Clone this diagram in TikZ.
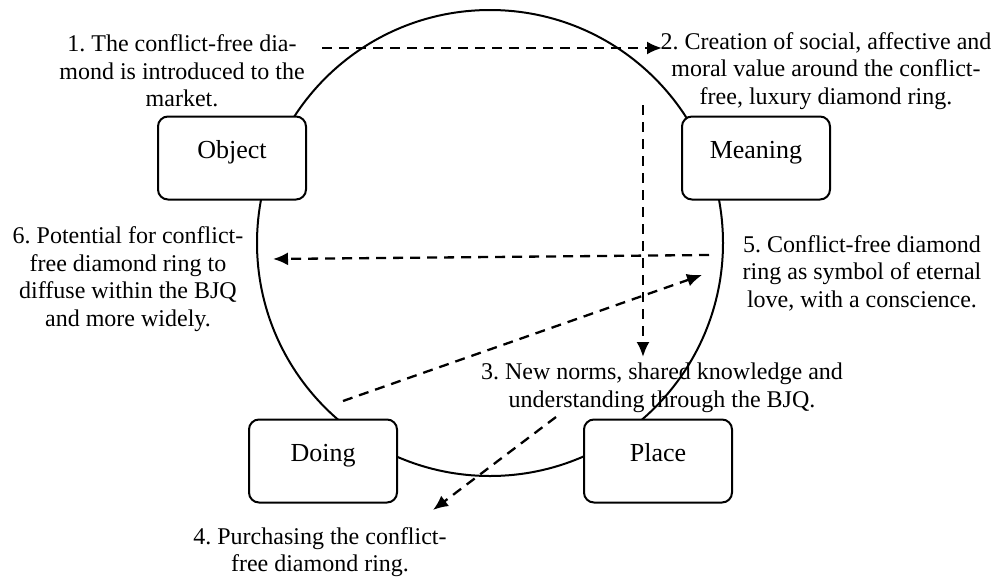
\documentclass[tikz,border=0pt]{standalone}
\usepackage{fontspec}
\setmainfont{Liberation Serif}
\frenchspacing
\usetikzlibrary{arrows.meta,shapes}
\tikzstyle{stage}=[draw,rounded corners=10pt,fill=white,line width=2pt,minimum width=148pt,minimum height=83pt,text height=10pt,text depth=10pt,font=\fontsize{26}{30}\selectfont]
\tikzstyle{note}=[align=center,inner sep=2pt,font=\fontsize{24}{27.5}\selectfont]
\tikzstyle{flow}=[draw,line width=2.3pt,dash pattern=on 10pt off 7pt,-{Latex[length=15pt,width=13pt]}]

\begin{document}
\begin{tikzpicture}[x=1pt,y=-1pt]
    \useasboundingbox (0,0) rectangle (1005,579);
    % The ring first, the stages sit on top of it
    \draw[line width=2pt] (490,243) circle [radius=233pt];

    % Four stages on the ring
    \foreach \pos/\name in {{(232,158)/Object}, {(756,158)/Meaning}, {(323,461)/Doing}, {(658,461)/Place}}
        \node[stage] (\name) at \pos {\name};

    % Numbered notes
    \node[note] (n1) at (182,71) {1. The conflict-free dia-\\mond is introduced to the\\market.};
    \node[note] (n2) at (826,71) {2. Creation of social, affective and\\moral value around the conflict-\\free, luxury diamond ring.};
    \node[note] (n3) at (662,388) {3. New norms, shared knowledge and\\understanding through the BJQ.};
    \node[note] (n4) at (320,552) {4. Purchasing the conflict-\\free diamond ring.};
    \node[note] (n5) at (862,273) {5. Conflict-free diamond\\ring as symbol of eternal\\love, with a conscience.};
    \node[note] (n6) at (128,279) {6. Potential for conflict-\\free diamond ring to\\diffuse within the BJQ\\and more widely.};

    % Ends of the dashed arrows
    \foreach \pos/\name in {{(322,48)/s1}, {(662,48)/t1}, {(643,105)/s2}, {(643,357)/t2}, {(556,417)/s3}, {(433,510)/t3}, {(343,401)/s4}, {(702,275)/t4}, {(709,255)/s5}, {(273,259)/t5}}
        \path \pos coordinate (\name);

    % Connect them
    \foreach \source/\dest in {s1/t1, s2/t2, s3/t3, s4/t4, s5/t5}
        \path[flow] (\source) -- (\dest);
\end{tikzpicture}
\end{document}
